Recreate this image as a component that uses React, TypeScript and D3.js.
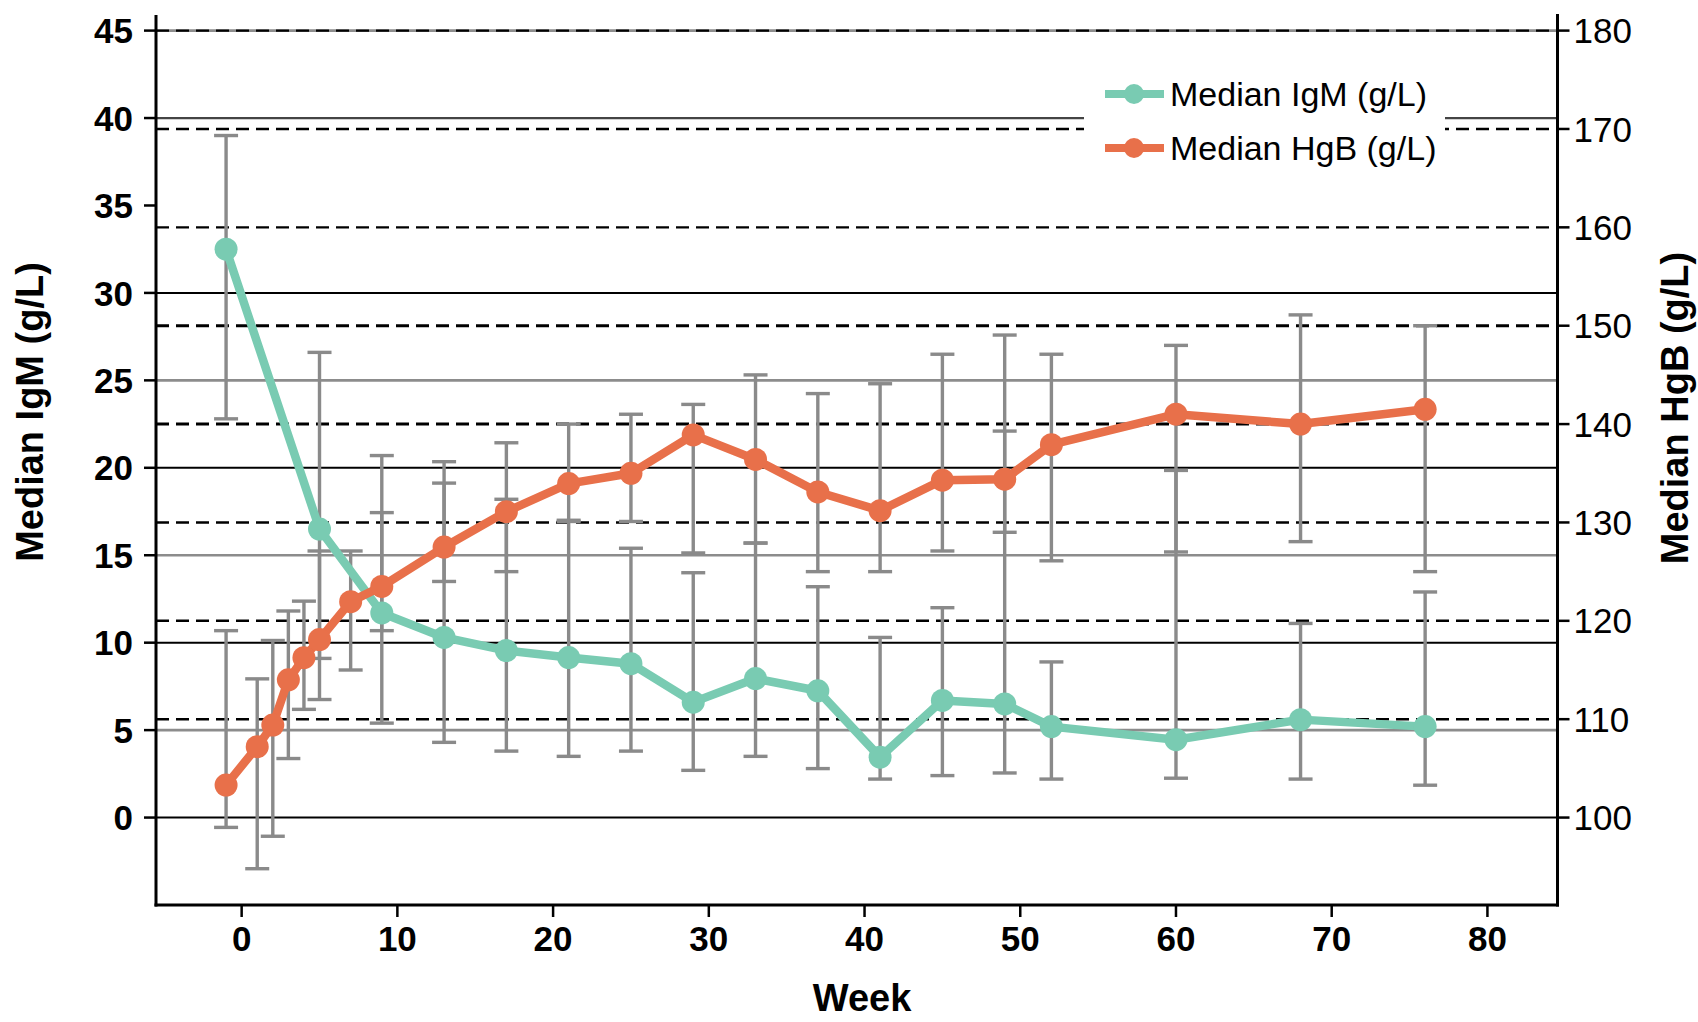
import React from 'react';
import * as d3 from 'd3';

// ---- data ----
const weeksIgM = [-1, 5, 9, 13, 17, 21, 25, 29, 33, 37, 41, 45, 49, 52, 60, 68, 76];
const igmMedian = [32.5, 16.5, 11.7, 10.3, 9.55, 9.15, 8.8, 6.6, 7.95, 7.25, 3.45, 6.7, 6.5, 5.2, 4.45, 5.6, 5.2];
const igmLow = [22.8, 9.1, 5.4, 4.3, 3.8, 3.5, 3.8, 2.7, 3.5, 2.8, 2.2, 2.4, 2.55, 2.2, 2.25, 2.2, 1.85];
const igmHigh = [39.0, 26.6, 20.7, 20.35, 18.2, 17.0, 15.4, 14.0, 15.7, 13.2, 10.3, 12.0, 22.1, 8.9, 19.85, 11.1, 12.9];

const weeksHgB = [-1, 1, 2, 3, 4, 5, 7, 9, 13, 17, 21, 25, 29, 33, 37, 41, 45, 49, 52, 60, 68, 76];
const hgbMedian = [103.3, 107.2, 109.4, 114.0, 116.25, 118.1, 121.95, 123.5, 127.5, 131.1, 133.95, 135.0, 138.9, 136.4, 133.1, 131.2, 134.3, 134.4, 137.9, 141.0, 140.0, 141.5];
const hgbLow = [99.0, 94.8, 98.1, 106.0, 111.0, 112.0, 115.0, 119.0, 124.0, 125.0, 130.1, 130.1, 126.9, 127.9, 125.0, 125.0, 127.1, 129.0, 126.1, 127.0, 128.05, 125.0];
const hgbHigh = [119.0, 114.1, 118.0, 121.0, 122.0, 127.1, 127.1, 131.0, 134.0, 138.1, 140.0, 141.0, 142.0, 145.0, 143.1, 144.1, 147.1, 149.05, 147.1, 148.0, 151.1, 150.0];

const igmTicks = [0, 5, 10, 15, 20, 25, 30, 35, 40, 45];
const igmGrid = [0, 5, 10, 15, 20, 25, 30, 40, 45];
const hgbTicks = [100, 110, 120, 130, 140, 150, 160, 170, 180];
const weekTicks = [0, 10, 20, 30, 40, 50, 60, 70, 80];

const seriesNames = ['Median IgM (g/L)', 'Median HgB (g/L)'];
const axisTitles = { left: 'Median IgM (g/L)', right: 'Median HgB (g/L)', bottom: 'Week' };

const TEAL = '#79cbb2';
const ORANGE = '#e8704a';
const GRAY = '#8a8a8a';
const FONT = '"Liberation Sans", Arial, Helvetica, sans-serif';

export default function App() {
  const W = 1698, H = 1022;
  const left = 156, right = 1557.5, top = 30.6, bottom = 905;
  const x = d3.scaleLinear().domain([-5.5, 84.5]).range([left, right]);
  const y = d3.scaleLinear().domain([-5, 45]).range([bottom, top]);
  const yh = d3.scaleLinear().domain([100, 180]).range([y(0), y(45)]);

  const igmPts = weeksIgM.map((w, i) => [x(w), y(igmMedian[i])] as [number, number]);
  const hgbPts = weeksHgB.map((w, i) => [x(w), yh(hgbMedian[i])] as [number, number]);
  const line = d3.line();
  const capW = 12;

  const gridStyle = (v: number) => {
    if (v % 10 === 5) return { stroke: '#8c8c8c', w: 2.6 };
    if (v === 40) return { stroke: '#444', w: 2.2 };
    return { stroke: '#000', w: 2 };
  };

  const errBar = (xx: number, y1: number, y2: number, key: string) => (
    <g key={key} stroke={GRAY} strokeWidth={3.4}>
      <line x1={xx} x2={xx} y1={y1} y2={y2} />
      <line x1={xx - capW} x2={xx + capW} y1={y1} y2={y1} />
      <line x1={xx - capW} x2={xx + capW} y1={y2} y2={y2} />
    </g>
  );

  return (
    <svg width={W} height={H} style={{ position: 'absolute', left: 0, top: 0, background: '#fff' }} fontFamily={FONT}>
      {/* solid gridlines */}
      {igmGrid.map(v => {
        const s = gridStyle(v);
        return <line key={'g' + v} x1={left} x2={right} y1={y(v)} y2={y(v)} stroke={s.stroke} strokeWidth={s.w} />;
      })}
      {/* dashed gridlines for HgB */}
      {hgbTicks.filter(t => t > 100).map(t => (
        <line key={'d' + t} x1={left} x2={right} y1={yh(t)} y2={yh(t)} stroke="#000"
          strokeWidth={t === 140 || t === 150 ? 3 : 2.4} strokeDasharray="13 7" />
      ))}

      {/* legend box */}
      <rect x={1084} y={55} width={361} height={130} fill="#fff" />

      {/* error bars */}
      {weeksIgM.map((w, i) => errBar(x(w), y(igmHigh[i]), y(igmLow[i]), 'ei' + i))}
      {weeksHgB.map((w, i) => errBar(x(w), yh(hgbHigh[i]), yh(hgbLow[i]), 'eh' + i))}

      {/* lines */}
      <path d={line(igmPts) || ''} fill="none" stroke={TEAL} strokeWidth={8.5} strokeLinejoin="round" />
      {igmPts.map((p, i) => <circle key={'ci' + i} cx={p[0]} cy={p[1]} r={11.5} fill={TEAL} />)}
      <path d={line(hgbPts) || ''} fill="none" stroke={ORANGE} strokeWidth={8.5} strokeLinejoin="round" />
      {hgbPts.map((p, i) => <circle key={'ch' + i} cx={p[0]} cy={p[1]} r={11.5} fill={ORANGE} />)}

      {/* axes */}
      <line x1={left} x2={left} y1={15} y2={bottom + 1.5} stroke="#000" strokeWidth={3} />
      <line x1={right} x2={right} y1={14} y2={bottom + 1.5} stroke="#000" strokeWidth={3} />
      <line x1={left - 1.5} x2={right + 1.5} y1={bottom} y2={bottom} stroke="#000" strokeWidth={3} />

      {igmTicks.map(t => (
        <g key={'lt' + t}>
          <line x1={left - 12} x2={left} y1={y(t)} y2={y(t)} stroke="#000" strokeWidth={2.5} />
          <text x={left - 23} y={y(t)} dy="0.36em" textAnchor="end" fontSize={35} fontWeight="bold">{t}</text>
        </g>
      ))}
      {hgbTicks.map(t => (
        <g key={'rt' + t}>
          <line x1={right} x2={right + 12} y1={yh(t)} y2={yh(t)} stroke="#000" strokeWidth={2.5} />
          <text x={right + 16} y={yh(t)} dy="0.36em" textAnchor="start" fontSize={35}>{t}</text>
        </g>
      ))}
      {weekTicks.map(t => (
        <g key={'bt' + t}>
          <line x1={x(t)} x2={x(t)} y1={bottom} y2={bottom + 12} stroke="#000" strokeWidth={2.5} />
          <text x={x(t)} y={951} textAnchor="middle" fontSize={35} fontWeight="bold">{t}</text>
        </g>
      ))}

      {/* axis titles */}
      <text transform="translate(43,412) rotate(-90)" textAnchor="middle" fontSize={38} fontWeight="bold">{axisTitles.left}</text>
      <text transform="translate(1688,408) rotate(-90)" textAnchor="middle" fontSize={38} fontWeight="bold">{axisTitles.right}</text>
      <text x={862} y={1011} textAnchor="middle" fontSize={38} fontWeight="bold">{axisTitles.bottom}</text>

      {/* legend */}
      {seriesNames.map((n, i) => {
        const ly = i === 0 ? 94 : 148;
        const c = i === 0 ? TEAL : ORANGE;
        return (
          <g key={'lg' + i}>
            <line x1={1105} x2={1164} y1={ly} y2={ly} stroke={c} strokeWidth={8} />
            <circle cx={1134} cy={ly} r={10} fill={c} />
            <text x={1170} y={ly} dy="0.36em" fontSize={34}>{n}</text>
          </g>
        );
      })}
    </svg>
  );
}
